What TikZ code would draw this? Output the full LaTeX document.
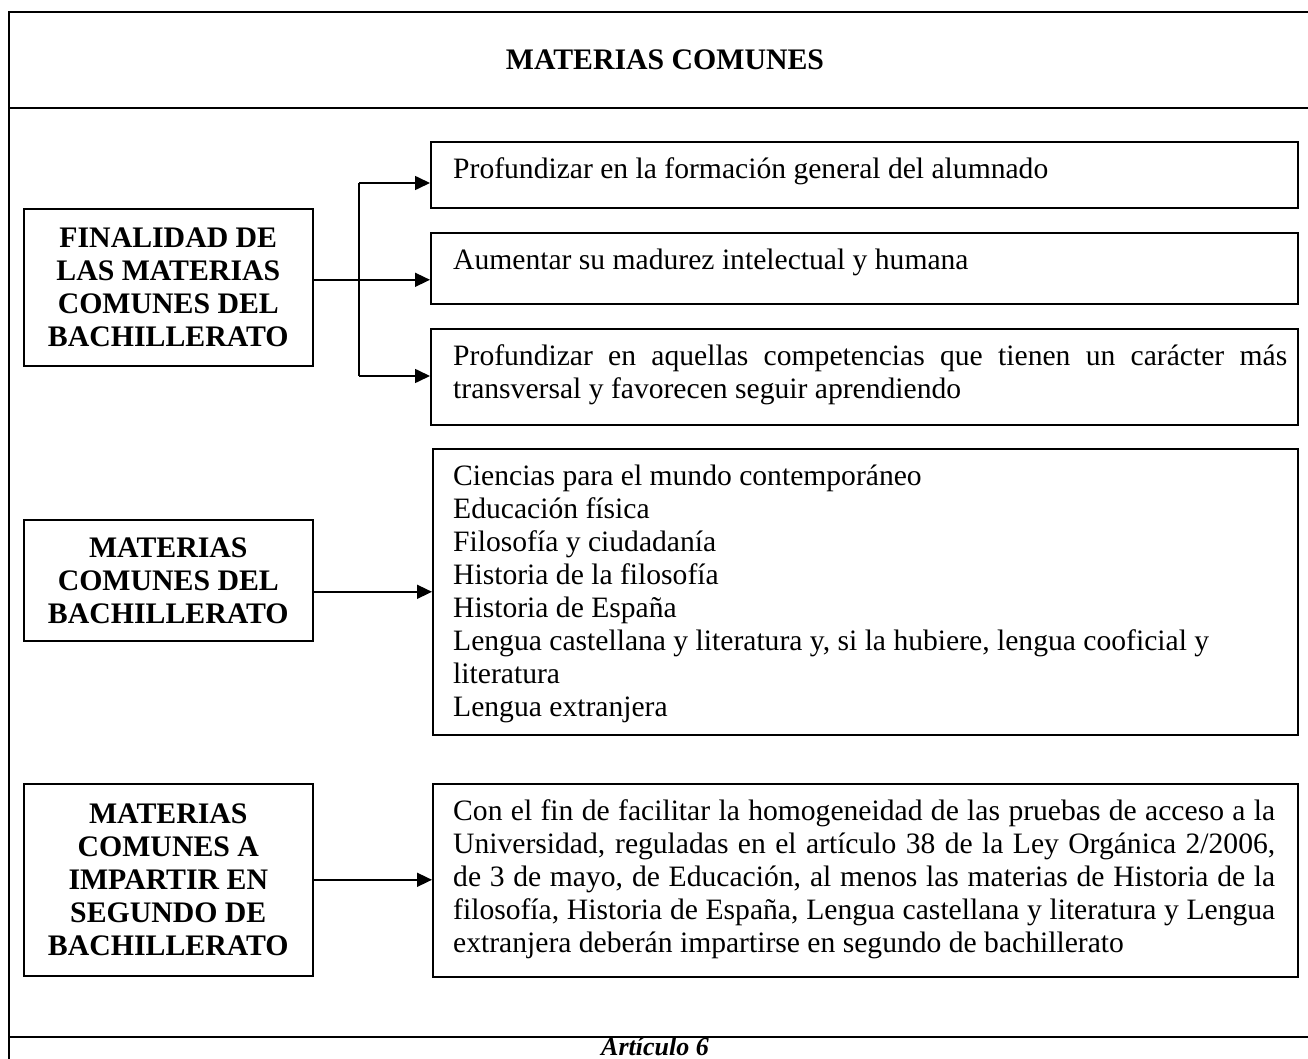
\documentclass[tikz,border=0pt]{standalone}
\usepackage{fontspec}
\setmainfont{Liberation Serif}
\usetikzlibrary{arrows.meta}
\begin{document}
\begin{tikzpicture}[x=1pt,y=-1pt,
  box/.style={draw,line width=1.6pt,inner sep=0pt,anchor=north west},
  bodytxt/.style={inner sep=0pt,anchor=north west,font=\fontsize{29.6}{33}\selectfont},
  headtxt/.style={inner sep=0pt,text width=285pt,align=justify,font=\fontsize{29.8}{33}\selectfont\bfseries},
  arr/.style={line width=1.6pt,-{Triangle[length=15pt,width=14pt]}},
  conn/.style={line width=1.6pt},
  frameline/.style={line width=2.6pt}]
\clip (0,0) rectangle (1308,1059);
\fill[white] (0,0) rectangle (1308,1059);
% outer frame
\draw[frameline] (9,1070) -- (9,12) -- (1320,12);
\draw[frameline] (9,108) -- (1320,108);
\draw[frameline] (9,1037) -- (1320,1037);
\node[anchor=base,inner sep=0pt,font=\fontsize{29.8}{33}\selectfont\bfseries] (title) at (665,70) {MATERIAS COMUNES};
\node[anchor=base,inner sep=0pt,font=\fontsize{26}{30}\selectfont\bfseries\itshape] (art) at (655,1055) {Artículo 6};
% left boxes
\node[box,minimum width=289pt,minimum height=157pt] (fin) at (23,208) {};
\node[headtxt] (fint) at (fin.center) {\centering FINALIDAD DE\\LAS MATERIAS\\COMUNES DEL\\BACHILLERATO\par};
\node[box,minimum width=289pt,minimum height=121pt] (mc) at (23,519) {};
\node[headtxt] (mct) at (mc.center) {\centering MATERIAS\\COMUNES DEL\\BACHILLERATO\par};
\node[box,minimum width=289pt,minimum height=192pt] (imp) at (23,783) {};
\node[headtxt] (impt) at (imp.center) {\centering MATERIAS\\COMUNES A\\IMPARTIR EN\\SEGUNDO DE\\BACHILLERATO\par};
% right boxes
\node[box,minimum width=867pt,minimum height=66pt] (b1) at (430,141) {};
\node[bodytxt] (b1t) at (453,155) {\strut Profundizar en la formación general del alumnado};
\node[box,minimum width=867pt,minimum height=71pt] (b2) at (430,232) {};
\node[bodytxt] (b2t) at (453,246) {\strut Aumentar su madurez intelectual y humana};
\node[box,minimum width=867pt,minimum height=96pt] (b3) at (430,328) {};
\node[bodytxt,text width=834pt,align=justify] (b3t) at (453,342) {\strut Profundizar en aquellas competencias que tienen un carácter más\linebreak transversal y favorecen seguir aprendiendo};
\node[box,minimum width=865pt,minimum height=286pt] (b4) at (432,448) {};
\node[bodytxt,text width=840pt,align=justify] (b4t) at (453,462) {\strut Ciencias para el mundo contemporáneo\\
\strut Educación física\\
\strut Filosofía y ciudadanía\\
\strut Historia de la filosofía\\
\strut Historia de España\\
\strut Lengua castellana y literatura y, si la hubiere, lengua cooficial y\\
\strut literatura\\
\strut Lengua extranjera};
\node[box,minimum width=865pt,minimum height=193pt] (b6) at (432,783) {};
\node[bodytxt,text width=822pt,align=justify] (b6t) at (453,797) {\strut Con el fin de facilitar la homogeneidad de las pruebas de acceso a la\linebreak Universidad, reguladas en el artículo 38 de la Ley Orgánica 2/2006,\linebreak de 3 de mayo, de Educación, al menos las materias de Historia de la\linebreak filosofía, Historia de España, Lengua castellana y literatura y Lengua\linebreak extranjera deberán impartirse en segundo de bachillerato};
% connectors
\coordinate (jt) at (359,183);
\coordinate (jb) at (359,376);
\draw[conn] (jt) -- (jb);
\draw[arr] (jt) -- (jt -| b1.west);
\draw[arr] (jb) -- (jb -| b3.west);
\draw[arr] ([yshift=7.5pt]fin.east) -- ([yshift=7.5pt]fin.east -| b2.west);
\draw[arr] (mc.east |- b4.west) -- (b4.west);
\draw[arr] (imp.east) -- (imp.east -| b6.west);
\end{tikzpicture}
\end{document}
